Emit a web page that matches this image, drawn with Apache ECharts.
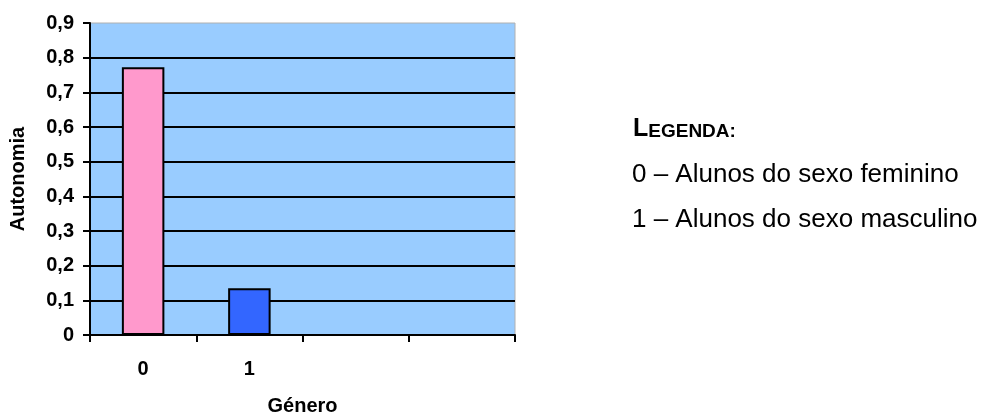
<!DOCTYPE html>
<html><head><meta charset="utf-8">
<script src="https://cdn.jsdelivr.net/npm/echarts@6/dist/echarts.min.js"></script>
<style>html,body{margin:0;padding:0;background:#fff}#c{width:989px;height:412px}</style>
</head><body><div id="c"></div>
<script>
const categories = ['0', '1', '', ''];
const values = [0.772, 0.135, null, null];
const barColors = ['#FF99CC', '#3366FF', '#FF99CC', '#3366FF'];
const yTicks = { min: 0, max: 0.9, interval: 0.1 };
const legendTitle = ['L', 'EGENDA:'];
const legendLines = ['0 – Alunos do sexo feminino', '1 – Alunos do sexo masculino'];

const FONT = '"Liberation Sans", Arial, sans-serif';
const chart = echarts.init(document.getElementById('c'));
chart.setOption({
  animation: false,
  grid: { left: 90, top: 23, width: 425, height: 312, show: true, backgroundColor: '#99CCFF', borderColor: '#b0b0b0', borderWidth: 1, containLabel: false, outerBoundsMode: 'none' },
  xAxis: {
    type: 'category', data: categories,
    name: 'Género', nameLocation: 'middle', nameGap: 61,
    nameTextStyle: { fontFamily: FONT, fontWeight: 'bold', fontSize: 20, color: '#000' },
    axisLine: { show: true, lineStyle: { color: '#000', width: 2 } },
    axisTick: { show: true, interval: 0, length: 7, lineStyle: { color: '#000', width: 2 } },
    axisLabel: { margin: 24, fontFamily: FONT, fontWeight: 'bold', fontSize: 20, color: '#000' },
    splitLine: { show: false }
  },
  yAxis: {
    type: 'value', min: yTicks.min, max: yTicks.max, interval: yTicks.interval,
    name: 'Autonomia', nameLocation: 'middle', nameGap: 62, nameRotate: 90,
    nameTextStyle: { fontFamily: FONT, fontWeight: 'bold', fontSize: 20, color: '#000' },
    axisLine: { show: true, lineStyle: { color: '#000', width: 2 } },
    axisTick: { show: true, length: 7, lineStyle: { color: '#000', width: 2 } },
    axisLabel: { margin: 16, fontFamily: FONT, fontWeight: 'bold', fontSize: 20, color: '#000',
      formatter: v => (Math.round(v * 10) / 10).toString().replace('.', ',') },
    splitLine: { show: true, showMaxLine: false, showMinLine: false, lineStyle: { color: '#000', width: 2 } }
  },
  series: [{
    type: 'bar', barWidth: '40%',
    data: values.map((v, i) => ({ value: v, itemStyle: { color: barColors[i] } })),
    itemStyle: { borderColor: '#000', borderWidth: 2 }
  }],
  graphic: [
    { type: 'text', x: 633, y: 129, style: { text: '{a|' + legendTitle[0] + '}{b|' + legendTitle[1] + '}', verticalAlign: 'middle', rich: {
      a: { fontFamily: FONT, fontWeight: 'bold', fontSize: 25, fill: '#000', verticalAlign: 'bottom' },
      b: { fontFamily: FONT, fontWeight: 'bold', fontSize: 19, fill: '#000', verticalAlign: 'bottom' } } } },
    { type: 'text', x: 632, y: 175, style: { text: legendLines[0], verticalAlign: 'middle', fontFamily: FONT, fontSize: 26, fill: '#000' } },
    { type: 'text', x: 632, y: 220, style: { text: legendLines[1], verticalAlign: 'middle', fontFamily: FONT, fontSize: 26, fill: '#000' } }
  ]
});
</script></body></html>
